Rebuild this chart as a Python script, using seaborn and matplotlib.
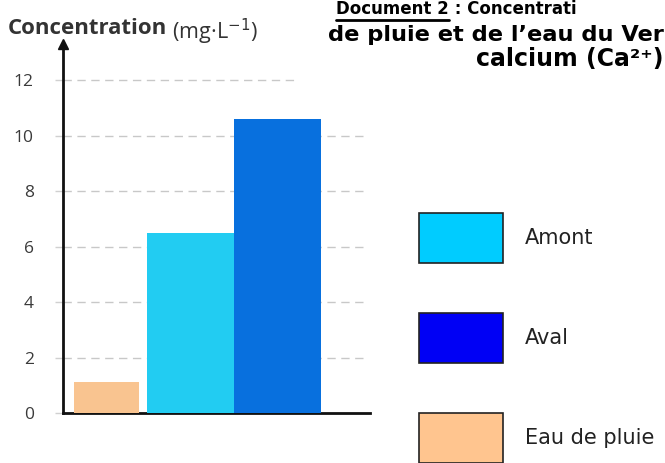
import matplotlib
matplotlib.use("Agg")
import matplotlib.pyplot as plt
import seaborn as sns
import pandas as pd
from matplotlib.patches import Patch
from matplotlib.lines import Line2D

# ---- data ----
categories = ["Eau de pluie", "Amont", "Aval"]
values = [1.1, 6.5, 10.6]
legend_order = ["Amont", "Aval", "Eau de pluie"]
yticks = [0, 2, 4, 6, 8, 10, 12]
bar_colors = {"Eau de pluie": "#F9C490", "Amont": "#22CCF2", "Aval": "#0870DE"}
legend_colors = {"Amont": "#00CCFF", "Aval": "#0000F5", "Eau de pluie": "#FFC58F"}

df = pd.DataFrame({"cat": categories, "val": values})

sns.set_style("white")
plt.rcParams["font.family"] = ["DejaVu Sans"]
plt.rcParams["mathtext.fontset"] = "dejavusans"

W, H = 665, 463
fig = plt.figure(figsize=(W / 100, H / 100), dpi=100)

def fx(px):
    return px / W

def fy(py):
    return 1 - py / H

ax = fig.add_axes([fx(63), fy(413), fx(370) - fx(63), fy(44) - fy(413)])

sns.barplot(data=df, x="cat", y="val", hue="cat", order=categories,
            hue_order=categories, palette=bar_colors, width=1.0,
            dodge=False, legend=False, ax=ax, saturation=1, zorder=3)

# narrower rain-water bar
p0 = ax.patches[0]
cx = p0.get_x() + p0.get_width() / 2
p0.set_width(0.75)
p0.set_x(cx - 0.375 + 0.03)
for p in ax.patches:
    p.set_edgecolor("none")

ax.set_xlim(-0.47, 3.06)
ax.set_ylim(0, 13.3)
ax.set_xlabel("")
ax.set_ylabel("")
ax.set_xticks([])
ax.set_yticks(yticks)
ax.set_yticklabels([str(v) for v in yticks], fontsize=12.5, color="#3a3a3a",
                   family=["Open Sans", "DejaVu Sans"])
ax.tick_params(axis="y", length=6, width=1, color="#d0d0d0", pad=15, left=True)

# dashed gridlines
for v in yticks[1:]:
    xmax = 0.77 if v == 12 else 0.99
    ax.axhline(v, xmin=0, xmax=xmax, color="#c8c8c8", lw=1,
               ls=(0, (6, 4)), zorder=1)

for s in ["top", "right"]:
    ax.spines[s].set_visible(False)
for s in ["left", "bottom"]:
    ax.spines[s].set_color("#111111")
    ax.spines[s].set_linewidth(2)
ax.plot([0], [1], marker="^", color="#111111", markersize=7,
        transform=ax.transAxes, clip_on=False, zorder=5)

# y-axis title
t1 = fig.text(fx(8), fy(34), "Concentration", fontsize=16, fontweight="bold",
              color="#333333", family=["Open Sans", "DejaVu Sans"],
              va="baseline", ha="left")
ax.annotate(" (mg·L$^{-1}$)", xy=(1, 0), xycoords=t1, fontsize=15.5,
            color="#333333", family=["Open Sans", "DejaVu Sans"],
            va="baseline", ha="left", annotation_clip=False)

# document title (cropped in the reference)
doc = fig.text(fx(336), fy(0), "Document 2", fontsize=12,
               fontweight="bold", color="black", va="top", ha="left")
ax.annotate(" : Concentrati", xy=(1, 0), xycoords=doc, fontsize=12,
            fontweight="bold", color="black", va="bottom", ha="left",
            annotation_clip=False)
fig.canvas.draw()
bb = doc.get_window_extent(fig.canvas.get_renderer())
fig.add_artist(Line2D([bb.x0 / W, bb.x1 / W], [bb.y0 / H - 1.5 / H] * 2,
                      color="black", lw=2, transform=fig.transFigure))
fig.text(fx(328), fy(41), "de pluie et de l’eau du Ver", fontsize=16.2,
         fontweight="bold", color="black", va="baseline", ha="left")
fig.text(fx(663), fy(66), "calcium (Ca²⁺)", fontsize=17,
         fontweight="bold", color="black", va="baseline", ha="right")

# legend
handles = [Patch(facecolor=legend_colors[c], edgecolor="#222222", lw=1.2,
                 label=c) for c in legend_order]
fs = 15
fs_px = fs / 72 * 100
box_h = 50 / fs_px
hh = (box_h - 0.245) / 0.65
fig.legend(handles=handles, loc="upper left",
           bbox_to_anchor=(fx(419), fy(213)), frameon=False, fontsize=fs,
           handlelength=84 / fs_px, handleheight=hh,
           labelspacing=50 / fs_px, handletextpad=22 / fs_px,
           borderpad=0, borderaxespad=0, labelcolor="#222222")

fig.savefig("out.png", dpi=100)
